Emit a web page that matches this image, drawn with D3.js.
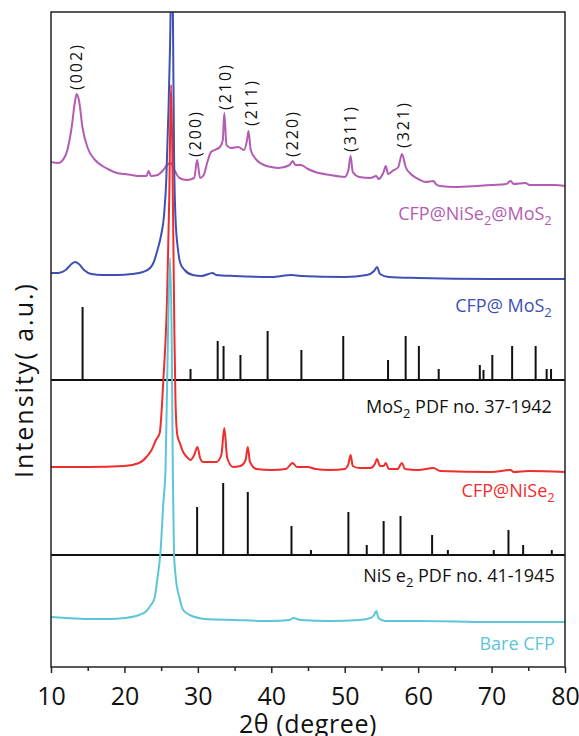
<!DOCTYPE html>
<html>
<head>
<meta charset="utf-8">
<script src="https://cdn.jsdelivr.net/npm/d3@7"></script>
<style>
  body { margin: 0; background: #fff; }
  svg text { font-family: "Open Sans", "Noto Sans", sans-serif; }
</style>
</head>
<body>
<svg id="chart" width="579" height="736"></svg>
<script>
// ---- data (2theta in degrees, intensity in a.u. above each trace's own baseline)
var comboX = [10, 11, 12, 12.8, 13.3, 13.5, 13.8, 14.3, 15, 16, 17, 18, 19, 20, 21, 22, 23, 23.3, 23.6, 24.5, 25.3, 25.8, 26.3, 26.8, 27.5, 28.5, 29.5, 29.9, 30.3, 30.8, 31.3, 31.8, 32.3, 33, 33.4, 33.6, 33.9, 34.5, 35.5, 36.3, 36.7, 36.9, 37.2, 38, 39, 40, 41, 42.5, 42.9, 43.3, 44, 45, 46, 48, 50, 50.5, 50.8, 51.1, 52, 53.5, 54.3, 54.6, 55.3, 55.6, 55.9, 56.5, 57.3, 57.8, 58.3, 59, 60, 61, 62.1, 62.4, 63, 65, 68, 70, 72, 72.6, 73, 74.6, 75.2, 77, 78.5, 80];
var comboY = [23, 22, 30, 57, 85, 91, 85, 57, 37, 25, 19, 15, 12, 11, 10, 9, 9, 14, 9, 10, 15, 20, 22, 15, 7, 5, 7, 25, 7, 10, 23, 33, 35, 38, 45, 72, 40, 37, 38, 35, 45, 54, 35, 25, 20, 18, 17, 20, 24, 20, 20, 16, 13, 10, 8, 15, 29, 13, 8, 7, 9, 6, 13, 19, 11, 14, 18, 31, 18, 11, 6, 3, 4, 1, -1, -2, -1, 0, 1, 4, 1, 2, 0, 0, 0, -1];

var mos2X = [10, 11, 12, 12.8, 13.3, 13.8, 14.5, 15.5, 17, 19, 21, 22.5, 23.5, 24.0, 24.5, 25.0, 25.4, 25.7, 26.0, 26.2, 26.45, 26.6, 26.75, 26.95, 27.3, 27.6, 28.2, 29.3, 30.5, 32, 32.5, 35, 40, 42.8, 44, 50, 53, 54, 54.4, 54.8, 56, 60, 70, 80];
var mos2Y = [5, 5, 8, 14, 16, 14, 8, 4, 3, 3, 4, 6, 10, 16, 28, 43, 63, 98, 168, 228, 320, 266, 128, 61, 28, 15, 8, 3, 2, 5, 3, 2, 1, 3, 2, 1, 3, 7, 11, 4, 1, 0, -1, -1];

var niseX = [10, 15, 20, 22, 23, 23.7, 24.3, 24.8, 25.3, 25.8, 26.1, 26.35, 26.6, 26.8, 26.95, 27.2, 27.55, 28.0, 28.5, 29.0, 29.5, 29.95, 30.3, 30.7, 31.5, 32.5, 33.2, 33.6, 34.0, 34.8, 35.8, 36.5, 36.8, 37.1, 38, 40, 42, 42.9, 43.5, 45, 46, 48, 50, 50.5, 50.8, 51.1, 52, 53.5, 54.1, 54.4, 54.8, 55.3, 55.6, 56.0, 57.2, 57.8, 58.2, 60, 62.1, 63, 70, 72.6, 73, 75, 80];
var niseY = [3, 3, 4, 7, 13, 20, 30, 37, 90, 170, 270, 385, 270, 140, 70, 35, 27, 18, 13, 10, 15, 23, 12, 8, 8, 8, 15, 42, 12, 3, 4, 10, 23, 8, 1, 0, 1, 7, 3, 3, 1, 0, 1, 6, 15, 4, 2, 2, 6, 11, 4, 4, 7, 1, 1, 7, 1, 0, 2, -1, -2, 0, -2, -1, -2];

var bareX = [10, 12, 15, 18, 20, 22, 23, 23.6, 24.1, 24.5, 24.9, 25.3, 25.6, 25.9, 26.2, 26.45, 26.6, 26.75, 27.0, 27.5, 28.0, 28.9, 31, 35, 40, 42.5, 43, 44, 48, 52, 53.5, 54.0, 54.3, 54.6, 55.5, 60, 70, 80];
var bareY = [3, 2, 1, 1, 2, 5, 9, 15, 22, 42, 67, 117, 152, 272, 362, 272, 142, 67, 42, 22, 10, 5, 1, 0, -1, 0, 2, 0, -1, 0, 2, 5, 9, 2, -1, -1, -2, -2];

// reference patterns (stick positions and relative heights)
var mos2PdfX = [14.3, 29.0, 32.7, 33.5, 35.8, 39.5, 44.1, 49.8, 55.9, 58.3, 60.1, 62.8, 68.4, 68.9, 70.1, 72.8, 76.0, 77.5, 78.1];
var mos2PdfY = [73, 11, 39, 34, 25, 49, 30, 44, 20, 44, 34, 11, 15, 10, 25, 34, 34, 11, 11];
var nisePdfX = [29.9, 33.45, 36.8, 42.75, 45.4, 50.5, 53.0, 55.3, 57.6, 61.9, 64.05, 70.3, 72.3, 74.3, 78.2];
var nisePdfY = [48, 72, 63, 29, 5, 43, 10, 34, 39, 20, 5, 5, 25, 10, 5];

// miller indices of the NiSe2@MoS2 trace
var millerText = ["(002)", "(200)", "(210)", "(211)", "(220)", "(311)", "(321)"];
var millerX = [13.4, 29.6, 33.7, 37.3, 42.9, 50.8, 58.0];
var millerY = [95, 28, 75, 59, 28, 33, 37];

var xTicks = [10, 20, 30, 40, 50, 60, 70, 80];
var xMinorTicks = [15, 25, 35, 45, 55, 65, 75];

// vertical stacking of traces (a.u.)
var offBare = 47, offNisePdf = 112, offNise = 197, offMosPdf = 287, offMos = 389, offCombo = 482;

var cPurple = "#b35cb3", cBlue = "#3d50b4", cRed = "#ee2d2d", cCyan = "#5cc6d8";

// ---- scales
var plotL = 51, plotR = 565, plotT = 12, plotB = 667;
var xScale = d3.scaleLinear().domain([10, 80]).range([plotL, plotR]);
var yScale = d3.scaleLinear().domain([0, 655]).range([plotB, plotT]);

var svg = d3.select('#chart');

svg.append("clipPath").attr("id", "plotclip")
  .append("rect").attr("x", plotL).attr("y", plotT).attr("width", plotR - plotL).attr("height", plotB - plotT);

var plot = svg.append("g").attr("clip-path", "url(#plotclip)");

var line = d3.line()
  .curve(d3.curveMonotoneX)
  .x(function(d) { return xScale(d[0]); })
  .y(function(d) { return yScale(d[1]); });

function traceData(xs, ys, off) {
  return xs.map(function(d, i) { return [d, ys[i] + off]; });
}

// reference pattern baselines and sticks
function sticks(xs, ys, off) {
  plot.append("line")
    .attr("x1", xScale(10)).attr("x2", xScale(80))
    .attr("y1", yScale(off)).attr("y2", yScale(off))
    .attr("stroke", "#111").attr("stroke-width", 2);
  plot.selectAll(null).data(xs).enter().append("line")
    .attr("x1", function(d) { return xScale(d); })
    .attr("x2", function(d) { return xScale(d); })
    .attr("y1", yScale(off))
    .attr("y2", function(d, i) { return yScale(off + ys[i]); })
    .attr("stroke", "#111").attr("stroke-width", 2);
}
sticks(mos2PdfX, mos2PdfY, offMosPdf);
sticks(nisePdfX, nisePdfY, offNisePdf);

function trace(xs, ys, off, color) {
  plot.append("path")
    .attr("d", line(traceData(xs, ys, off)))
    .attr("fill", "none")
    .attr("stroke", color)
    .attr("stroke-width", 2)
    .attr("stroke-linejoin", "round");
}
trace(comboX, comboY, offCombo, cPurple);
trace(mos2X, mos2Y, offMos, cBlue);
trace(niseX, niseY, offNise, cRed);
trace(bareX, bareY, offBare, cCyan);

// miller labels, rotated
svg.selectAll(null).data(millerText).enter().append("text")
  .attr("transform", function(d, i) {
    return "translate(" + xScale(millerX[i]) + "," + yScale(offCombo + millerY[i]) + ") rotate(-90)";
  })
  .attr("dy", "0.35em")
  .style("font-size", "16px")
  .style("letter-spacing", "2px")
  .attr("fill", "#111")
  .text(function(d) { return d; });

// trace labels with subscripts
function label(parts, xv, yv, color) {
  var t = svg.append("text")
    .attr("x", xScale(xv)).attr("y", yScale(yv))
    .attr("text-anchor", "end")
    .attr("fill", color)
    .style("font-size", "18px");
  var shifted = false;
  parts.forEach(function(p) {
    var ts = t.append("tspan").text(p[0]);
    if (p[1]) {
      ts.attr("dy", 5).style("font-size", "13px");
      shifted = true;
    } else if (shifted) {
      ts.attr("dy", -5);
      shifted = false;
    }
  });
}
label([["CFP@NiSe", 0], ["2", 1], ["@MoS", 0], ["2", 1]], 78.2, 447, cPurple);
label([["CFP@ MoS", 0], ["2", 1]], 78.2, 355, cBlue);
label([["MoS", 0], ["2", 1], ["  PDF no. 37-1942", 0]], 78.2, 254, "#111");
label([["CFP@NiSe", 0], ["2", 1]], 78.6, 170, cRed);
label([["NiS e", 0], ["2", 1], [" PDF no. 41-1945", 0]], 78.6, 85, "#111");
label([["Bare CFP", 0]], 78.6, 17, cCyan);

// ---- axes
var xAxis = d3.axisBottom(xScale).tickValues(xTicks).tickSize(6).tickPadding(14);
var xMinor = d3.axisBottom(xScale).tickValues(xMinorTicks).tickSize(4).tickFormat("");

var gx = svg.append("g").attr("transform", "translate(0," + plotB + ")").call(xAxis);
var gm = svg.append("g").attr("transform", "translate(0," + plotB + ")").call(xMinor);
gx.select(".domain").remove();
gm.select(".domain").remove();
gx.selectAll(".tick line").attr("stroke", "#222").attr("stroke-width", 1.5);
gm.selectAll(".tick line").attr("stroke", "#222").attr("stroke-width", 1.5);
gx.selectAll(".tick text").attr("fill", "#111")
  .style("font-family", '"Open Sans", sans-serif').style("font-size", "25px");

svg.append("rect")
  .attr("x", plotL).attr("y", plotT).attr("width", plotR - plotL).attr("height", plotB - plotT)
  .attr("fill", "none").attr("stroke", "#222").attr("stroke-width", 1.5);

svg.append("text")
  .attr("x", (plotL + plotR) / 2).attr("y", 733)
  .attr("text-anchor", "middle")
  .style("font-size", "25px").style("letter-spacing", "0.6px").attr("fill", "#111")
  .text("2\u03b8 (degree)");

svg.append("text")
  .attr("transform", "translate(33,380) rotate(-90)")
  .attr("text-anchor", "middle")
  .style("font-size", "25px").style("letter-spacing", "2px").attr("fill", "#111")
  .text("Intensity( a.u.)");
</script>
</body>
</html>
